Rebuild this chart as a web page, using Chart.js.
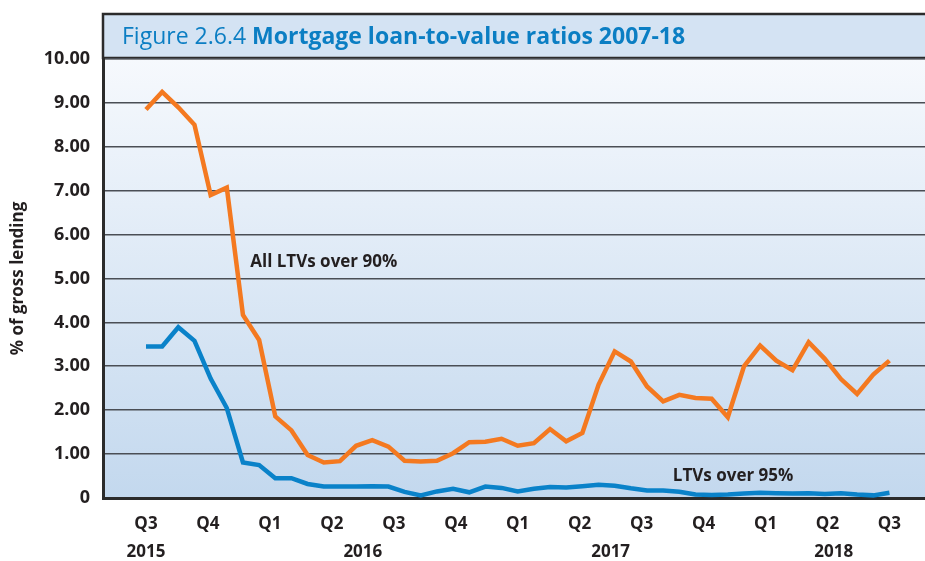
<!DOCTYPE html>
<html>
<head>
<meta charset="utf-8">
<script src="https://cdn.jsdelivr.net/npm/chart.js@4/dist/chart.umd.min.js"></script>
<style>
  html, body { margin: 0; padding: 0; background: #fff; }
  canvas { display: block; }
</style>
</head>
<body>
<canvas id="chart" width="925" height="561"></canvas>
<script>
// Monthly observations, Jul 2015 - May 2018 (47 points)
const allOver90 = [
  8.85, 9.25, 8.9, 8.5, 6.9, 7.07, 4.17, 3.6, 1.86, 1.54,
  0.98, 0.81, 0.84, 1.19, 1.32, 1.17, 0.85, 0.83, 0.85, 1.02,
  1.27, 1.28, 1.35, 1.19, 1.25, 1.57, 1.29, 1.48, 2.58, 3.34,
  3.11, 2.54, 2.2, 2.35, 2.28, 2.26, 1.84, 3.0, 3.47, 3.13,
  2.91, 3.55, 3.17, 2.71, 2.37, 2.81, 3.13
];
const over95 = [
  3.45, 3.45, 3.89, 3.58, 2.72, 2.05, 0.81, 0.75, 0.45, 0.45,
  0.32, 0.26, 0.26, 0.26, 0.27, 0.26, 0.14, 0.06, 0.15, 0.21,
  0.13, 0.26, 0.23, 0.15, 0.21, 0.25, 0.24, 0.27, 0.3, 0.28,
  0.22, 0.17, 0.17, 0.14, 0.08, 0.07, 0.08, 0.1, 0.12, 0.11,
  0.1, 0.11, 0.09, 0.11, 0.08, 0.06, 0.12
];
const quarterLabels = ['Q3', 'Q4', 'Q1', 'Q2', 'Q3', 'Q4', 'Q1', 'Q2', 'Q3', 'Q4', 'Q1', 'Q2', 'Q3'];
const yearLabels = ['2015', '2016', '2017', '2018'];
const yTicks = [0, 1, 2, 3, 4, 5, 6, 7, 8, 9, 10];
const seriesNames = ['All LTVs over 90%', 'LTVs over 95%'];

const FONT = '"Liberation Sans Narrow", "Open Sans", sans-serif';
const INK = '#231f20';
const lastIndex = allOver90.length - 1;
const quarterStep = lastIndex / (quarterLabels.length - 1);

// Fond dégradé + cadre du titre
const framePlugin = {
  id: 'frame',
  beforeDraw(chart) {
    const { ctx, chartArea: a } = chart;
    ctx.save();
    const g = ctx.createLinearGradient(0, a.top, 0, a.bottom);
    g.addColorStop(0, '#f6f9fd');
    g.addColorStop(1, '#c3d8ee');
    ctx.fillStyle = g;
    ctx.fillRect(a.left, a.top, a.right - a.left, a.bottom - a.top);

    // bandeau du titre
    const barBottom = a.top - 1;
    ctx.fillStyle = '#d4e3f3';
    ctx.fillRect(a.left, 13, a.right - a.left, barBottom - 13);
    ctx.strokeStyle = '#2b2b2b';
    ctx.lineWidth = 2.5;
    ctx.beginPath();
    ctx.moveTo(a.right + 2, 14);
    ctx.lineTo(a.left, 14);
    ctx.lineTo(a.left, barBottom);
    ctx.lineTo(a.right + 2, barBottom);
    ctx.stroke();

    ctx.textBaseline = 'middle';
    ctx.fillStyle = '#0b7ec3';
    ctx.font = '23px ' + FONT;
    const part1 = 'Figure 2.6.4 ';
    ctx.fillText(part1, a.left + 19, 37);
    const w = ctx.measureText(part1).width;
    ctx.font = 'bold 23px ' + FONT;
    ctx.fillText('Mortgage loan-to-value ratios 2007-18', a.left + 19 + w, 37);
    ctx.restore();
  },
  afterDraw(chart) {
    const { ctx, scales } = chart;
    const x = scales.x, y = scales.y;
    ctx.save();
    ctx.fillStyle = INK;
    ctx.font = 'bold 17px ' + FONT;
    ctx.textBaseline = 'middle';

    // libellés des années sous les trimestres
    const yearAt = [0, 3.5, 7.5, 11.1];
    ctx.textAlign = 'center';
    yearLabels.forEach((t, i) => {
      ctx.fillText(t, x.getPixelForValue(yearAt[i] * quarterStep), 552);
    });

    // étiquettes des séries
    ctx.textAlign = 'left';
    ctx.fillText(seriesNames[0], x.getPixelForValue(6.45), y.getPixelForValue(5.37));
    ctx.fillText(seriesNames[1], x.getPixelForValue(32.6), y.getPixelForValue(0.5));
    ctx.restore();
  }
};

const ctx = document.getElementById('chart').getContext('2d');
new Chart(ctx, {
  type: 'line',
  data: {
    datasets: [
      {
        label: seriesNames[0],
        data: allOver90.map((v, i) => ({ x: i, y: v })),
        borderColor: '#f47920',
        borderWidth: 4.5,
        pointRadius: 0,
        tension: 0
      },
      {
        label: seriesNames[1],
        data: over95.map((v, i) => ({ x: i, y: v })),
        borderColor: '#0a82c9',
        borderWidth: 4.5,
        pointRadius: 0,
        tension: 0
      }
    ]
  },
  options: {
    responsive: false,
    animation: false,
    layout: { padding: { top: 59, right: 0, bottom: 0, left: 0 } },
    plugins: { legend: { display: false }, tooltip: { enabled: false } },
    scales: {
      x: {
        type: 'linear',
        min: -2.66,
        max: 48.2,
        grid: { display: false },
        border: { display: true, color: '#2b2b2b', width: 3 },
        afterBuildTicks(axis) {
          axis.ticks = quarterLabels.map((_, k) => ({ value: k * quarterStep }));
        },
        afterFit(axis) { axis.height = 63; },
        ticks: {
          autoSkip: false,
          maxRotation: 0,
          padding: 8,
          color: INK,
          font: { family: FONT, size: 17, weight: 'bold' },
          callback: (v, i) => quarterLabels[i]
        }
      },
      y: {
        min: 0,
        max: 10,
        afterBuildTicks(axis) {
          axis.ticks = yTicks.map(v => ({ value: v }));
        },
        afterFit(axis) { axis.width = 103; },
        grid: { color: '#4a4e55', lineWidth: 1.6, drawTicks: false },
        border: { display: true, color: '#2b2b2b', width: 3 },
        title: {
          display: true,
          text: '% of gross lending',
          color: INK,
          font: { family: FONT, size: 17, weight: 'bold' },
          padding: { top: 8, bottom: 0 }
        },
        ticks: {
          padding: 13,
          color: INK,
          font: { family: FONT, size: 18, weight: 'bold' },
          callback: v => (v === 0 ? '0' : v.toFixed(2))
        }
      }
    }
  },
  plugins: [framePlugin]
});
</script>
</body>
</html>
